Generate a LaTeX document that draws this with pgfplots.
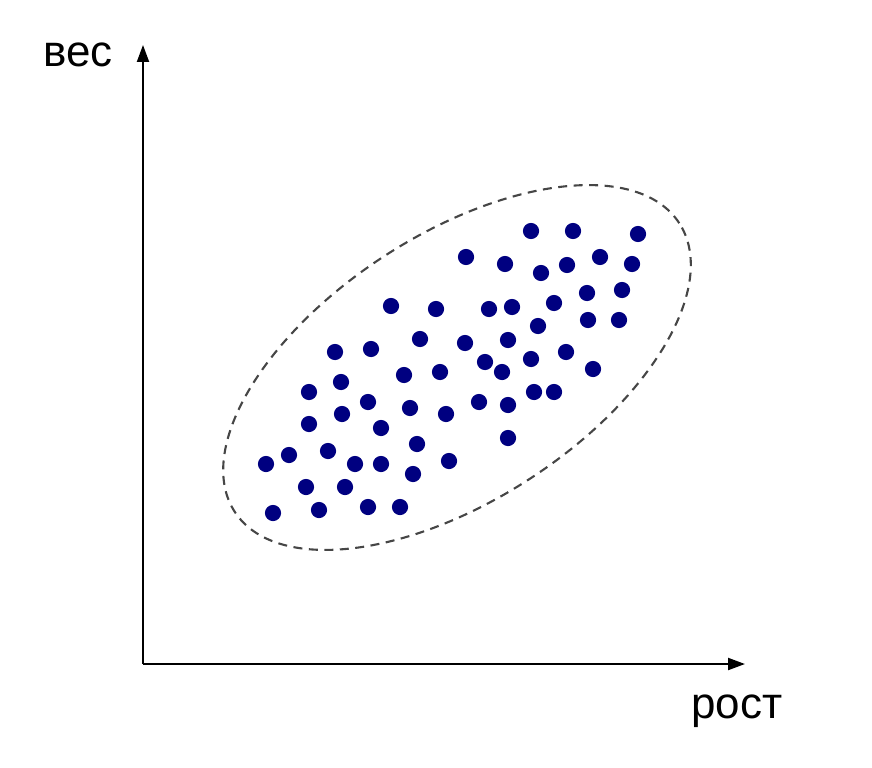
\documentclass[border=0pt]{standalone}
\usepackage{fontspec}
\setmainfont{Liberation Sans}
\usepackage{pgfplots}
\pgfplotsset{compat=1.18}
\usetikzlibrary{arrows.meta}

\definecolor{dotblue}{RGB}{0,0,128}
\definecolor{ringgray}{RGB}{70,70,70}

% scatter points, in picture units (1 unit = 0.1 mm)
\pgfplotstableread{
x y
531 536
573 536
638 533
466 510
505 503
567 502
600 510
632 503
541 494
391 461
436 458
489 458
512 460
554 464
587 474
622 477
588 447
619 447
538 441
420 428
465 424
508 427
335 415
371 418
485 405
531 408
566 415
593 398
404 392
440 395
502 395
341 385
309 375
534 375
554 375
368 365
410 359
479 365
508 362
342 353
446 353
309 343
381 339
508 329
417 323
328 316
266 303
289 312
355 303
381 303
449 306
413 293
306 280
345 280
273 254
319 257
368 260
400 260
}\pointsdata

\begin{document}
\begin{tikzpicture}
\useasboundingbox (0,0) rectangle (87.2mm,76.7mm);
\begin{axis}[
    at={(14.3mm,10.3mm)}, anchor=south west,
    scale only axis,
    width=60.2mm, height=61.9mm,
    xmin=143, xmax=745,
    ymin=103, ymax=722,
    axis lines=left,
    axis line style={line width=0.6pt, -{Triangle[length=1.7mm,width=1.2mm]}},
    xtick=\empty, ytick=\empty,
    clip=false,
]
% dashed ring round the cloud
\draw[ringgray, line width=0.6pt, dash pattern=on 0.9mm off 0.65mm,
      rotate around={33:(axis cs:457,399.5)}]
    (axis cs:457,399.5) ellipse [x radius=26.5mm, y radius=13.3mm];

\addplot[only marks, mark=*, mark size=2.1pt,
         mark options={fill=dotblue, draw=dotblue}]
    table[x=x, y=y] {\pointsdata};

\node[anchor=base, font=\fontsize{12.5}{15}\selectfont] at (axis cs:78,700) {вес};
\node[anchor=base, font=\fontsize{12.5}{15}\selectfont] at (axis cs:737,49) {рост};
\end{axis}
\end{tikzpicture}
\end{document}
